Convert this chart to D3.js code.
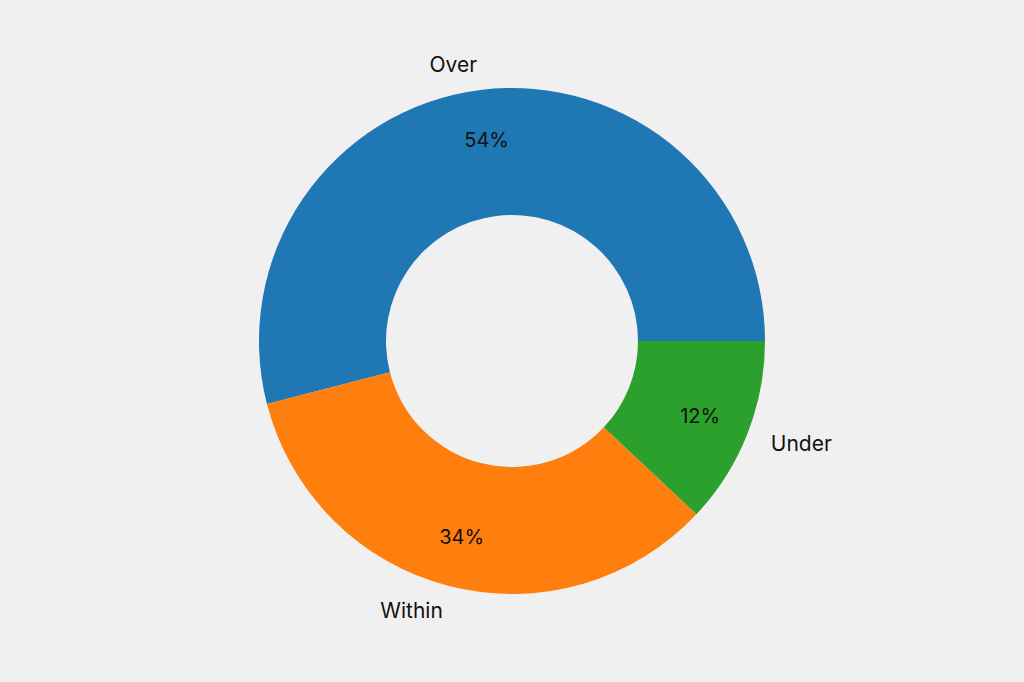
<!DOCTYPE html>
<html><head><meta charset="utf-8">
<script src="https://cdn.jsdelivr.net/npm/d3@7"></script>
<style>body{margin:0;background:#f0f0f0}svg{display:block}</style>
</head><body>
<svg id="chart" width="1024" height="682"></svg>
<script>
const categories = ["Over", "Within", "Under"];
const values = [54, 34, 12];
const colors = ["#1f77b4", "#ff7f0e", "#2ca02c"];

const width = 1024, height = 682;
const cx = 512, cy = 341;
const outerR = 253, innerR = 126;

const svg = d3.select("#chart");
svg.append("rect").attr("width", width).attr("height", height).attr("fill", "#f0f0f0");
const g = svg.append("g").attr("transform", `translate(${cx},${cy})`);

// counter-clockwise from 3 o'clock, like matplotlib
const pie = d3.pie().sort(null)
  .startAngle(Math.PI / 2)
  .endAngle(Math.PI / 2 - 2 * Math.PI);
const arcs = pie(values);
const arc = d3.arc().innerRadius(innerR).outerRadius(outerR);

g.selectAll("path").data(arcs).enter().append("path")
  .attr("d", arc)
  .attr("fill", (d, i) => colors[i]);

const font = "Inter, 'Open Sans', sans-serif";
const mid = d => (d.startAngle + d.endAngle) / 2;

g.selectAll("text.pct").data(arcs).enter().append("text")
  .attr("class", "pct")
  .attr("x", d => Math.sin(mid(d)) * outerR * 0.8)
  .attr("y", d => -Math.cos(mid(d)) * outerR * 0.8)
  .attr("text-anchor", "middle")
  .attr("dominant-baseline", "central")
  .attr("font-family", font).attr("font-size", 20)
  .attr("fill", "#111")
  .text(d => d.value + "%");

g.selectAll("text.lbl").data(arcs).enter().append("text")
  .attr("class", "lbl")
  .attr("x", d => Math.sin(mid(d)) * outerR * 1.1)
  .attr("y", d => -Math.cos(mid(d)) * outerR * 1.1)
  .attr("text-anchor", d => Math.sin(mid(d)) < 0 ? "end" : "start")
  .attr("dominant-baseline", "central")
  .attr("font-family", font).attr("font-size", 21)
  .attr("fill", "#111")
  .text((d, i) => categories[i]);
</script>
</body></html>
